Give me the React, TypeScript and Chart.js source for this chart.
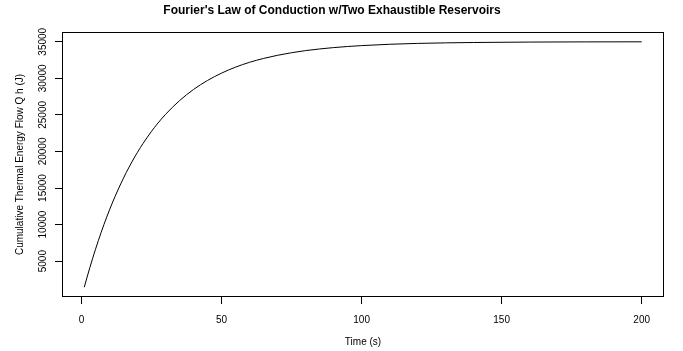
import React, { useEffect, useRef } from "react";
import { Chart, registerables } from "chart.js";

Chart.register(...registerables);

const timeSeconds = [1, 2, 3, 4, 5, 6, 8, 10, 12, 14, 16, 18, 20, 22, 25, 27, 30, 35, 40, 45, 50, 55, 60, 65, 70, 75, 80, 90, 100, 110, 120, 140, 160, 180, 200];
const heatFlowJ = [1440, 2820, 4140, 5410, 6630, 7790, 9990, 12010, 13860, 15560, 17130, 18570, 19890, 21110, 22750, 23740, 25070, 26950, 28480, 29710, 30710, 31530, 32190, 32720, 33150, 33500, 33790, 34200, 34475, 34655, 34775, 34900, 34958, 34982, 34992];
const xTickValues = [0, 50, 100, 150, 200];
const yTickValues = [5000, 10000, 15000, 20000, 25000, 30000, 35000];

const FONT = "'Liberation Sans', Arial, Helvetica, sans-serif";

const boxPlugin = {
  id: "rbox",
  afterDraw(chart: any) {
    const { ctx, chartArea } = chart;
    ctx.save();
    ctx.strokeStyle = "#000";
    ctx.lineWidth = 1;
    const l = Math.round(chartArea.left) + 0.5;
    const t = Math.round(chartArea.top) + 0.5;
    const r = Math.round(chartArea.right) - 0.5;
    const b = Math.round(chartArea.bottom) - 0.5;
    ctx.strokeRect(l, t, r - l, b - t);
    ctx.restore();
  },
};

export default function App() {
  const ref = useRef<HTMLCanvasElement | null>(null);

  useEffect(() => {
    document.body.style.margin = "0";
    const canvas = ref.current;
    if (!canvas) return;
    const points = timeSeconds.map((t, i) => ({ x: t, y: heatFlowJ[i] }));
    const xMin = Math.min(...timeSeconds);
    const xMax = Math.max(...timeSeconds);
    const yMin = Math.min(...heatFlowJ);
    const yMax = Math.max(...heatFlowJ);
    const xPad = (xMax - xMin) * 0.04;
    const yPad = (yMax - yMin) * 0.04;

    const chart = new Chart(canvas, {
      type: "line",
      data: {
        datasets: [
          {
            data: points,
            borderColor: "#000",
            borderWidth: 1,
            pointRadius: 0,
            fill: false,
            cubicInterpolationMode: "monotone",
          },
        ],
      },
      options: {
        animation: false,
        responsive: false,
        maintainAspectRatio: false,
        layout: { padding: { left: 0, right: 19, top: 0, bottom: 0 } },
        plugins: {
          legend: { display: false },
          tooltip: { enabled: false },
          title: {
            display: true,
            text: "Fourier's Law of Conduction w/Two Exhaustible Reservoirs",
            color: "#000",
            font: { family: FONT, size: 12, weight: "bold" },
            padding: { top: 3, bottom: 14.6 },
          },
        },
        scales: {
          x: {
            type: "linear",
            min: xMin - xPad,
            max: xMax + xPad,
            afterBuildTicks: (scale: any) => {
              scale.ticks = xTickValues.map((v) => ({ value: v }));
            },
            afterFit: (scale: any) => {
              scale.height = 54;
            },
            border: { display: false },
            grid: {
              drawOnChartArea: false,
              drawTicks: true,
              tickLength: 7,
              color: "#000",
              lineWidth: 1,
            },
            ticks: {
              color: "#000",
              font: { family: FONT, size: 10 },
              padding: 10,
              maxRotation: 0,
              minRotation: 0,
              autoSkip: false,
              callback: (v: any) => String(v),
            },
            title: {
              display: true,
              text: "Time (s)",
              color: "#000",
              font: { family: FONT, size: 10 },
              padding: { top: 0, bottom: 3 },
            },
          },
          y: {
            type: "linear",
            min: yMin - yPad,
            max: yMax + yPad,
            afterBuildTicks: (scale: any) => {
              scale.ticks = yTickValues.map((v) => ({ value: v }));
            },
            afterFit: (scale: any) => {
              scale.width = 62;
            },
            border: { display: false },
            grid: {
              drawOnChartArea: false,
              drawTicks: true,
              tickLength: 7,
              color: "#000",
              lineWidth: 1,
            },
            ticks: {
              color: "#000",
              font: { family: FONT, size: 10 },
              minRotation: 90,
              maxRotation: 90,
              crossAlign: "center",
              padding: -2,
              autoSkip: false,
              callback: (v: any) => String(v),
            },
            title: {
              display: true,
              text: "Cumulative Thermal Energy Flow Q h (J)",
              color: "#000",
              font: { family: FONT, size: 10 },
              padding: { top: 14, bottom: 0 },
            },
          },
        },
      },
      plugins: [boxPlugin],
    });
    return () => chart.destroy();
  }, []);

  return (
    <div style={{ width: 683, height: 351, background: "#fff" }}>
      <canvas ref={ref} width={683} height={351} style={{ display: "block" }} />
    </div>
  );
}
